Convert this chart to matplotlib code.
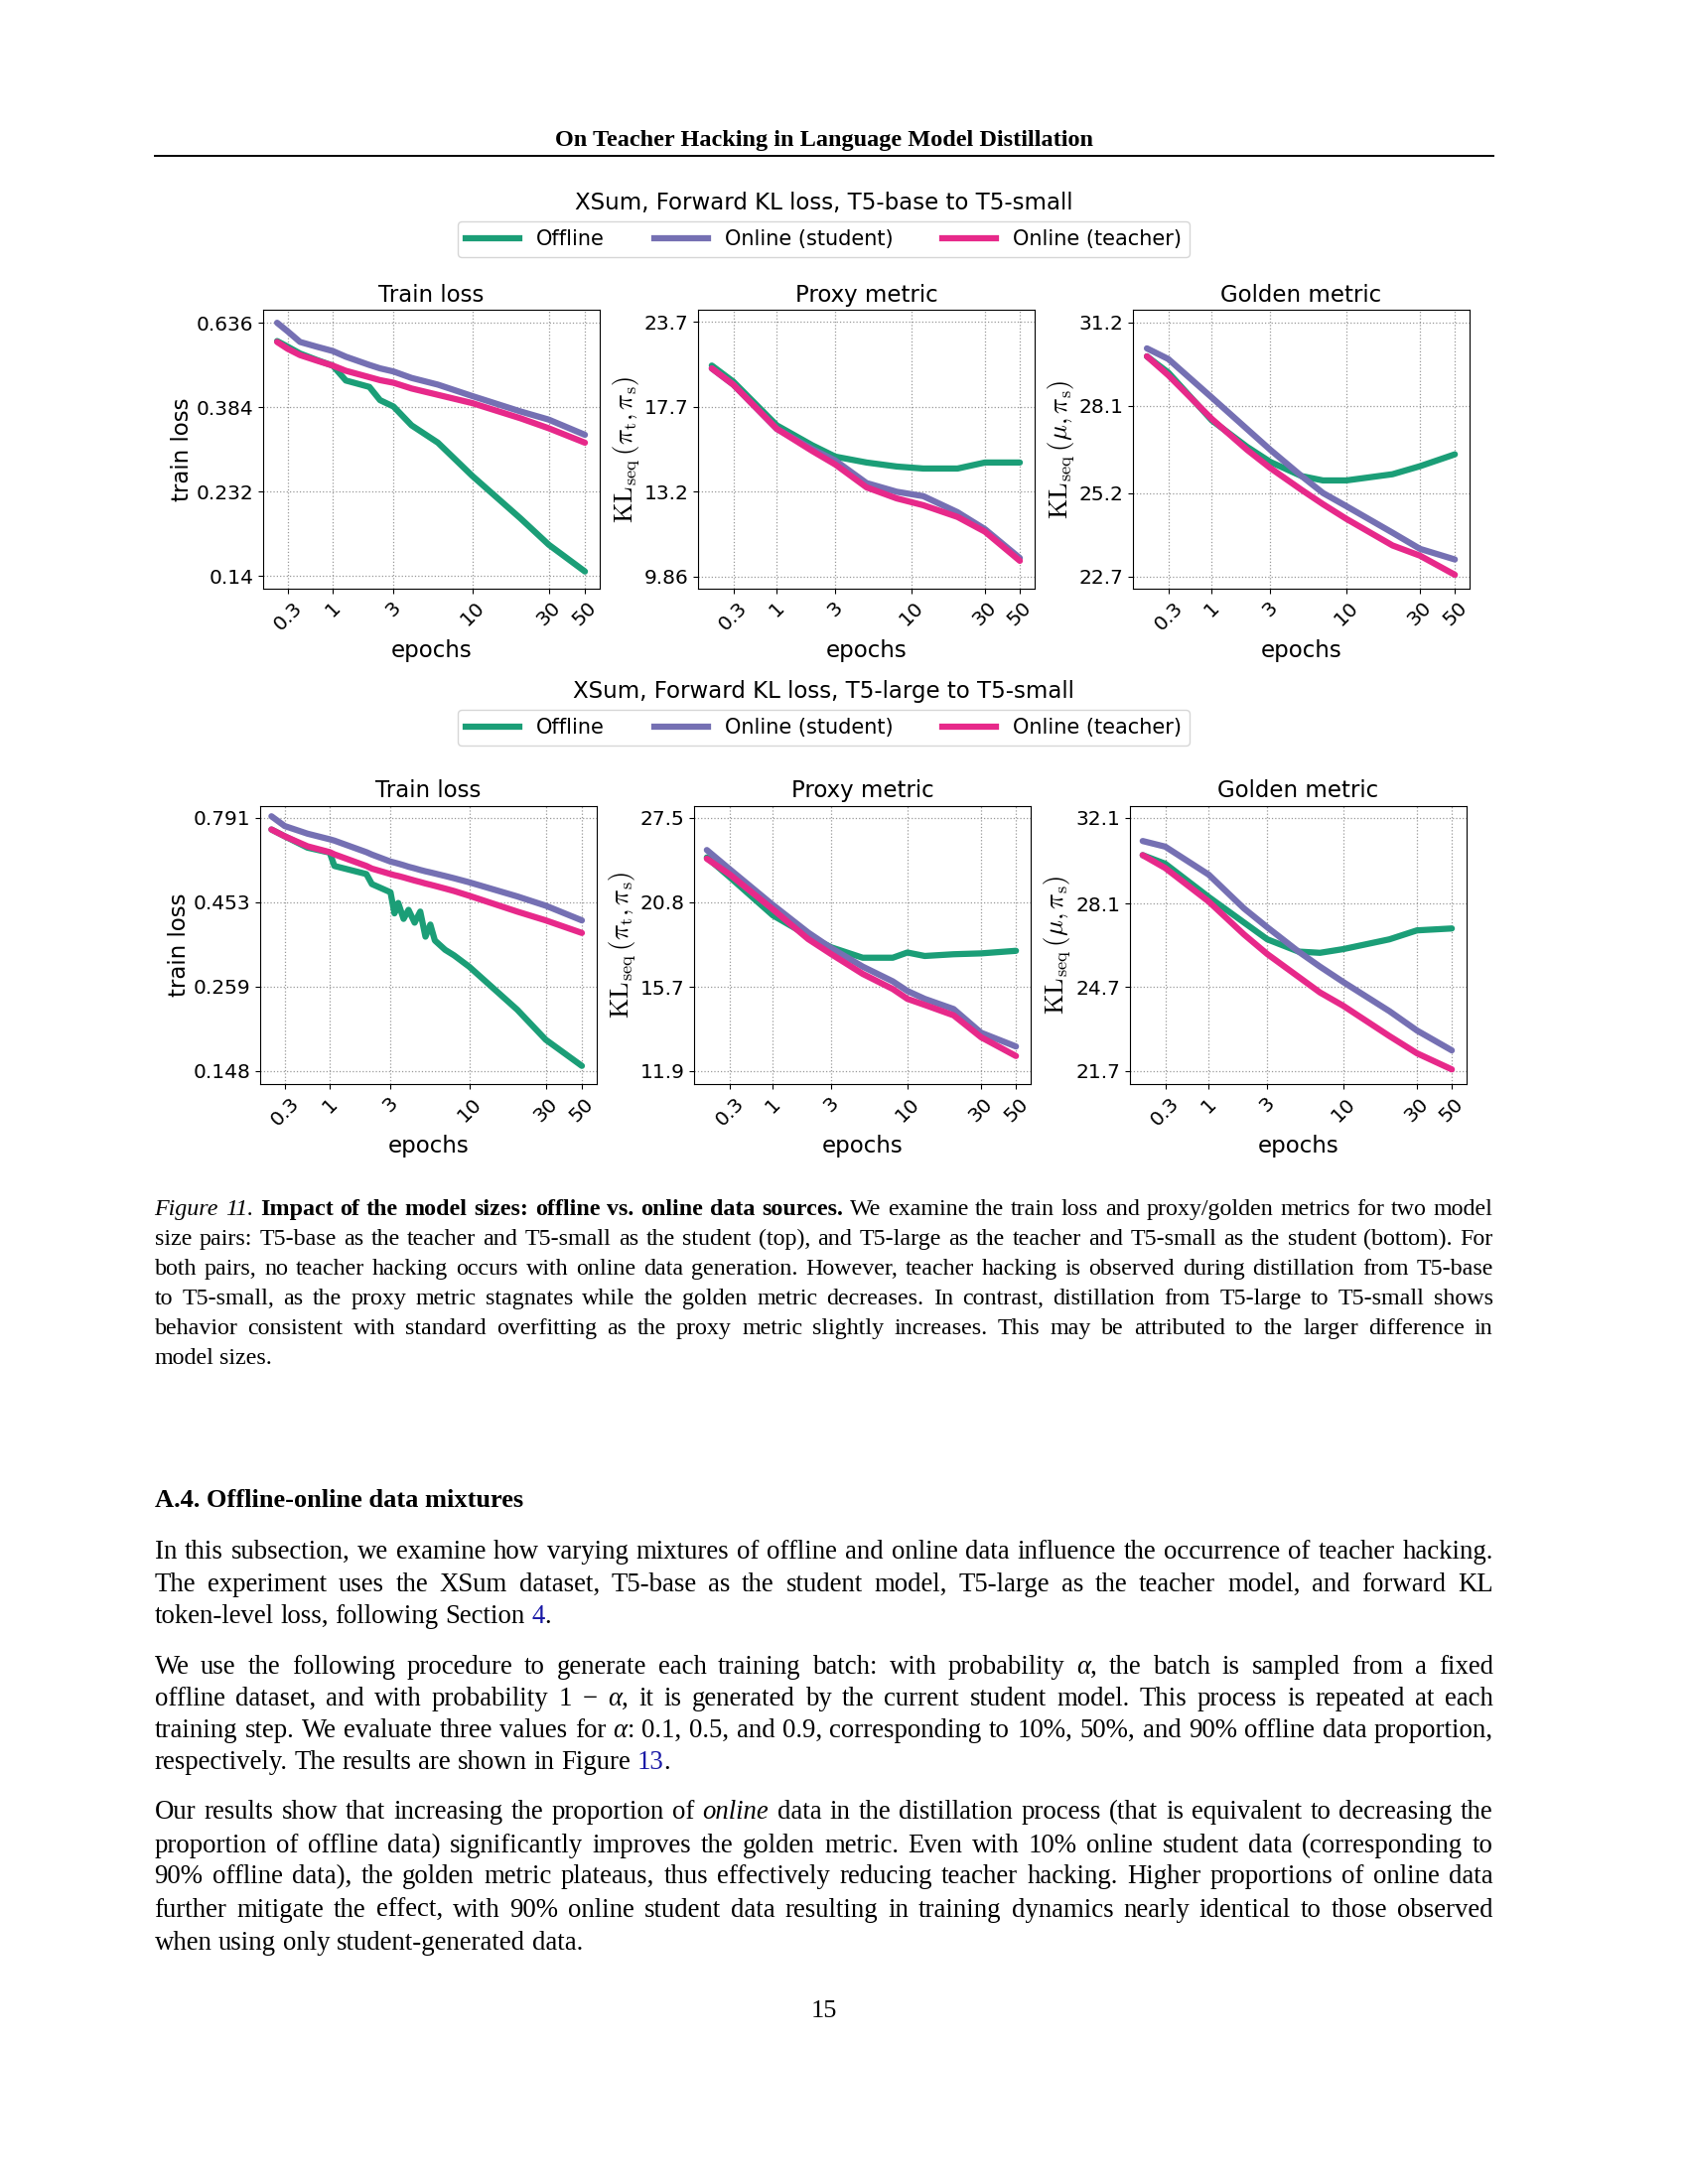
import numpy as np
import matplotlib
matplotlib.use("Agg")
import matplotlib.pyplot as plt
from matplotlib.lines import Line2D
from matplotlib.ticker import NullLocator, FixedLocator, FixedFormatter

plt.rcParams['mathtext.fontset'] = 'cm'

# ---------------- data ----------------
series_names = ["Offline", "Online (student)", "Online (teacher)"]
colors = ["#1b9e77", "#7570b3", "#e7298a"]
xticks = [0.3, 1, 3, 10, 30, 50]
xticklabels = ["0.3", "1", "3", "10", "30", "50"]

# Row 1: T5-base -> T5-small
r1_train_x = [0.19, 0.3, 0.45, 0.7, 1.0, 1.3, 2.0, 2.4, 3.0, 4.0, 6.0, 10, 20, 30, 50]
r1_train_off = [0.571, 0.552, 0.530, 0.510, 0.493, 0.451, 0.434, 0.401, 0.386, 0.345, 0.311, 0.255, 0.198, 0.169, 0.144]
r1_train_stu = [0.637, 0.605, 0.568, 0.552, 0.538, 0.520, 0.495, 0.485, 0.476, 0.458, 0.440, 0.411, 0.375, 0.357, 0.326]
r1_train_tea = [0.568, 0.545, 0.525, 0.508, 0.493, 0.478, 0.460, 0.452, 0.445, 0.430, 0.414, 0.394, 0.360, 0.339, 0.311]

r1_proxy_x = [0.086, 0.3, 1, 2, 3, 5, 8, 12, 20, 30, 50]
r1_proxy_off = [20.4, 19.3, 16.6, 15.5, 14.9, 14.6, 14.4, 14.3, 14.3, 14.6, 14.6]
r1_proxy_stu = [20.2, 19.1, 16.4, 15.3, 14.7, 13.6, 13.2, 13.0, 12.3, 11.6, 10.5]
r1_proxy_tea = [20.2, 19.1, 16.4, 15.2, 14.5, 13.4, 12.9, 12.6, 12.1, 11.5, 10.4]
r1_proxy_ticks = [9.86, 13.2, 17.7, 23.7]
r1_proxy_lim = (9.45, 24.7)

r1_gold_x = [0.087, 0.3, 1, 2, 3, 5, 7, 10, 20, 30, 50]
r1_gold_off = [29.9, 29.3, 27.6, 26.7, 26.2, 25.74, 25.6, 25.6, 25.8, 26.06, 26.45]
r1_gold_stu = [30.2, 29.8, 28.4, 27.3, 26.6, 25.74, 25.2, 24.79, 23.98, 23.5, 23.19]
r1_gold_tea = [29.9, 29.2, 27.65, 26.6, 26.0, 25.3, 24.85, 24.4, 23.6, 23.3, 22.75]
r1_gold_ticks = [22.7, 25.2, 28.1, 31.2]
r1_gold_lim = (22.36, 31.68)

r1_train_ticks = [0.14, 0.232, 0.384, 0.636]
r1_train_lim = (0.130, 0.687)

# Row 2: T5-large -> T5-small
r2_train_x = [0.165, 0.3, 0.6, 1.0, 1.1, 2.0, 2.2, 3.0, 3.2, 3.4, 3.7, 4.0, 4.4, 4.8, 5.2, 5.6, 6.0, 7.0, 8.0, 10, 20, 30, 50]
r2_train_off = [0.732, 0.700, 0.649, 0.628, 0.575, 0.545, 0.510, 0.483, 0.420, 0.450, 0.405, 0.430, 0.395, 0.425, 0.360, 0.390, 0.351, 0.330, 0.318, 0.295, 0.222, 0.182, 0.153]
r2_train_stu = [0.799, 0.749, 0.712, 0.686, 0.680, 0.630, 0.620, 0.592, 0.588, 0.584, 0.578, 0.572, 0.566, 0.560, 0.555, 0.551, 0.547, 0.538, 0.530, 0.516, 0.470, 0.442, 0.401]
r2_train_tea = [0.732, 0.700, 0.655, 0.630, 0.621, 0.575, 0.565, 0.545, 0.541, 0.538, 0.533, 0.528, 0.522, 0.517, 0.512, 0.508, 0.504, 0.495, 0.487, 0.472, 0.425, 0.401, 0.369]
r2_train_ticks = [0.148, 0.259, 0.453, 0.791]
r2_train_lim = (0.1356, 0.857)

r2_proxy_x = [0.077, 0.3, 1, 2, 3, 5, 8, 10, 13, 20, 30, 50]
r2_proxy_off = [24.1, 22.6, 19.9, 18.6, 17.9, 17.3, 17.3, 17.6, 17.4, 17.5, 17.55, 17.7]
r2_proxy_stu = [24.7, 23.2, 20.6, 18.8, 17.85, 16.8, 16.0, 15.5, 15.1, 14.6, 13.5, 12.9]
r2_proxy_tea = [24.0, 22.8, 20.3, 18.4, 17.5, 16.4, 15.6, 15.1, 14.8, 14.3, 13.3, 12.5]
r2_proxy_ticks = [11.9, 15.7, 20.8, 27.5]
r2_proxy_lim = (11.39, 28.6)

r2_gold_x = [0.077, 0.3, 1, 2, 3, 5, 7, 10, 20, 30, 50]
r2_gold_off = [30.3, 29.9, 28.4, 27.3, 26.6, 26.1, 26.05, 26.2, 26.6, 26.97, 27.05]
r2_gold_stu = [30.97, 30.7, 29.4, 27.9, 27.1, 26.1, 25.5, 24.9, 23.8, 23.1, 22.4]
r2_gold_tea = [30.3, 29.7, 28.2, 26.8, 26.0, 25.1, 24.5, 24.0, 22.9, 22.3, 21.75]
r2_gold_ticks = [21.7, 24.7, 28.1, 32.1]
r2_gold_lim = (21.26, 32.71)

# ---------------- figure ----------------
fig = plt.figure(figsize=(17, 22), dpi=100)
fwd = lambda x: np.log10(np.asarray(x, dtype=float) + 0.5)
inv = lambda y: 10 ** np.asarray(y, dtype=float) - 0.5

TICK_FS = 14.5
TITLE_FS = 16.5
kl_t = r'$\mathrm{KL}_{\mathrm{seq}}\,(\pi_{\mathrm{t}},\pi_{\mathrm{s}})$'
kl_g = r'$\mathrm{KL}_{\mathrm{seq}}\,(\mu,\pi_{\mathrm{s}})$'


def panel(rect, x, ys, yticks, ylim, xlim, title, ylabel, yfs):
    ax = fig.add_axes(rect)
    ax.set_xscale('function', functions=(fwd, inv))
    ax.set_yscale('log')
    for y, c in zip(ys, colors):
        ax.plot(x, y, color=c, lw=4.5, solid_capstyle='round')
    ax.set_xlim(*xlim)
    ax.set_ylim(*ylim)
    ax.xaxis.set_major_locator(FixedLocator(xticks))
    ax.xaxis.set_major_formatter(FixedFormatter(xticklabels))
    ax.xaxis.set_minor_locator(NullLocator())
    ax.yaxis.set_major_locator(FixedLocator(yticks))
    ax.yaxis.set_major_formatter(FixedFormatter([("%g" % v) for v in yticks]))
    ax.yaxis.set_minor_locator(NullLocator())
    ax.tick_params(labelsize=TICK_FS)
    for lab in ax.get_xticklabels():
        lab.set_rotation(45)
    ax.grid(True, ls=':', color='#999999', lw=0.9)
    ax.set_title(title, fontsize=TITLE_FS, pad=6)
    ax.set_xlabel('epochs', fontsize=TITLE_FS)
    ax.set_ylabel(ylabel, fontsize=yfs, labelpad=2)
    return ax


lefts1 = [0.1559, 0.4135, 0.6712]
lefts2 = [0.1541, 0.4112, 0.6694]
W, H = 0.1994, 0.1275
train_xlim = (0.068, 61.6)
met_xlim = (-0.02, 62.0)

panel([lefts1[0], 0.7305, W, H], r1_train_x, [r1_train_off, r1_train_stu, r1_train_tea],
      r1_train_ticks, r1_train_lim, train_xlim, 'Train loss', 'train loss', TITLE_FS)
panel([lefts1[1], 0.7305, W, H], r1_proxy_x, [r1_proxy_off, r1_proxy_stu, r1_proxy_tea],
      r1_proxy_ticks, r1_proxy_lim, met_xlim, 'Proxy metric', kl_t, 19)
panel([lefts1[2], 0.7305, W, H], r1_gold_x, [r1_gold_off, r1_gold_stu, r1_gold_tea],
      r1_gold_ticks, r1_gold_lim, met_xlim, 'Golden metric', kl_g, 19)

panel([lefts2[0], 0.5036, W, H], r2_train_x, [r2_train_off, r2_train_stu, r2_train_tea],
      r2_train_ticks, r2_train_lim, train_xlim, 'Train loss', 'train loss', TITLE_FS)
panel([lefts2[1], 0.5036, W, H], r2_proxy_x, [r2_proxy_off, r2_proxy_stu, r2_proxy_tea],
      r2_proxy_ticks, r2_proxy_lim, met_xlim, 'Proxy metric', kl_t, 19)
panel([lefts2[2], 0.5036, W, H], r2_gold_x, [r2_gold_off, r2_gold_stu, r2_gold_tea],
      r2_gold_ticks, r2_gold_lim, met_xlim, 'Golden metric', kl_g, 19)

handles = [Line2D([0], [0], color=c, lw=4.5) for c in colors]
for ty, ly, txt in [(0.907, 0.8905, 'XSum, Forward KL loss, T5-base to T5-small'),
                    (0.6836, 0.6668, 'XSum, Forward KL loss, T5-large to T5-small')]:
    fig.text(0.488, ty, txt, ha='center', va='center', fontsize=TITLE_FS)
    fig.legend(handles, series_names, loc='center', bbox_to_anchor=(0.488, ly), ncol=3,
               fontsize=15, handlelength=2.6, columnspacing=2.4, frameon=True,
               fancybox=True, edgecolor='#cccccc')

# ---------------- page text ----------------
SERIF = 'Liberation Serif'
L, R = 0.0915, 0.8845
renderer = fig.canvas.get_renderer()


def style_kw(s):
    kw = dict(family=SERIF)
    if 'i' in s:
        kw['style'] = 'italic'
    if 'b' in s:
        kw['weight'] = 'bold'
    if 'u' in s:
        kw['color'] = '#1a1aa6'
    return kw


def draw_line(y, segs, fs, justify=True):
    words = []
    prev_space = True
    for txt, st in segs:
        parts = txt.split(' ')
        for k, p in enumerate(parts):
            if p == '':
                continue
            glue = (k == 0 and not prev_space and len(words) > 0)
            words.append([p, st, glue])
        prev_space = txt.endswith(' ')
    items = []
    for w, st, glue in words:
        t = fig.text(0, y, w, fontsize=fs, va='baseline', ha='left', **style_kw(st))
        bb = t.get_window_extent(renderer)
        items.append([t, bb.width / fig.bbox.width, glue])
    sp = fig.text(0, 0, 'a a', fontsize=fs, family=SERIF)
    sp2 = fig.text(0, 0, 'aa', fontsize=fs, family=SERIF)
    space = (sp.get_window_extent(renderer).width - sp2.get_window_extent(renderer).width) / fig.bbox.width
    sp.remove(); sp2.remove()
    ngaps = sum(1 for it in items[1:] if not it[2])
    total = sum(it[1] for it in items)
    gap = space
    if justify and ngaps > 0:
        gap = (R - L - total) / ngaps
    x = L
    for i, (t, w, glue) in enumerate(items):
        if i > 0 and not glue:
            x += gap
        t.set_x(x)
        x += w


def yf(px):
    return 1 - px / 2200.0

fig.text(0.488, yf(147), 'On Teacher Hacking in Language Model Distillation', ha='center',
         va='baseline', fontsize=17.5, family=SERIF, weight='bold')
fig.add_artist(Line2D([L, R], [yf(157), yf(157)], color='black', lw=1.4))

CFS = 17.3
cap = [
    [('Figure 11.', 'i'), (' Impact of the model sizes: offline vs. online data sources.', 'b'),
     (' We examine the train loss and proxy/golden metrics for two model', 'n')],
    [('size pairs: T5-base as the teacher and T5-small as the student (top), and T5-large as the teacher and T5-small as the student (bottom). For', 'n')],
    [('both pairs, no teacher hacking occurs with online data generation. However, teacher hacking is observed during distillation from T5-base', 'n')],
    [('to T5-small, as the proxy metric stagnates while the golden metric decreases. In contrast, distillation from T5-large to T5-small shows', 'n')],
    [('behavior consistent with standard overfitting as the proxy metric slightly increases. This may be attributed to the larger difference in', 'n')],
    [('model sizes.', 'n')],
]
cap_y = [1224, 1254, 1284, 1314, 1344, 1374]
for i, (segs, py) in enumerate(zip(cap, cap_y)):
    draw_line(yf(py), segs, CFS, justify=(i < len(cap) - 1))

fig.text(L, yf(1518), 'A.4. Offline-online data mixtures', va='baseline', fontsize=19,
         family=SERIF, weight='bold')

BFS = 19.3
paras = [
    ([1570, 1603, 1635], [
        [('In this subsection, we examine how varying mixtures of offline and online data influence the occurrence of teacher hacking.', 'n')],
        [('The experiment uses the XSum dataset, T5-base as the student model, T5-large as the teacher model, and forward KL', 'n')],
        [('token-level loss, following Section ', 'n'), ('4', 'u'), ('.', 'n')],
    ]),
    ([1686, 1718, 1750, 1782], [
        [('We use the following procedure to generate each training batch: with probability ', 'n'), ('α', 'i'),
         (', the batch is sampled from a fixed', 'n')],
        [('offline dataset, and with probability 1 − ', 'n'), ('α', 'i'),
         (', it is generated by the current student model. This process is repeated at each', 'n')],
        [('training step. We evaluate three values for ', 'n'), ('α', 'i'),
         (': 0.1, 0.5, and 0.9, corresponding to 10%, 50%, and 90% offline data proportion,', 'n')],
        [('respectively. The results are shown in Figure ', 'n'), ('13', 'u'), ('.', 'n')],
    ]),
    ([1832, 1866, 1897, 1931, 1964], [
        [('Our results show that increasing the proportion of ', 'n'), ('online', 'i'),
         (' data in the distillation process (that is equivalent to decreasing the', 'n')],
        [('proportion of offline data) significantly improves the golden metric. Even with 10% online student data (corresponding to', 'n')],
        [('90% offline data), the golden metric plateaus, thus effectively reducing teacher hacking. Higher proportions of online data', 'n')],
        [('further mitigate the effect, with 90% online student data resulting in training dynamics nearly identical to those observed', 'n')],
        [('when using only student-generated data.', 'n')],
    ]),
]
for ys_, lines in paras:
    for i, (segs, py) in enumerate(zip(lines, ys_)):
        draw_line(yf(py), segs, BFS, justify=(i < len(lines) - 1))

fig.text(0.488, yf(2032), '15', ha='center', va='baseline', fontsize=19, family=SERIF)

fig.savefig('out.png', dpi=100)
